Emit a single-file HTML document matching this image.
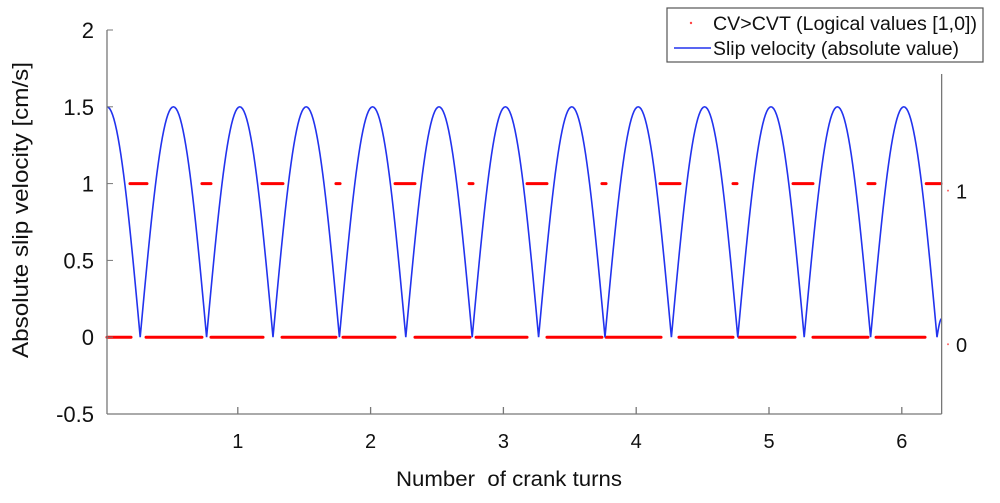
<!DOCTYPE html>
<html><head><meta charset="utf-8">
<style>
html,body{margin:0;padding:0;background:#fff;}
svg{display:block;font-family:"Liberation Sans",Arial,sans-serif;}
</style></head>
<body>
<svg id="chart" width="1000" height="503" viewBox="0 0 1000 503">
  <g id="plot"></g>
  <g id="axes"></g>
  <text x="0" y="0" transform="translate(28,210) rotate(-90)" text-anchor="middle" font-size="22" textLength="296" lengthAdjust="spacingAndGlyphs" fill="#111">Absolute slip velocity [cm/s]</text>
  <text x="509" y="486" text-anchor="middle" font-size="21" textLength="226" lengthAdjust="spacingAndGlyphs" fill="#111" xml:space="preserve">Number  of crank turns</text>
  <g>
    <rect x="667" y="8" width="316" height="54" fill="#fff" stroke="#555" stroke-width="1.2"/>
    <circle cx="691" cy="23" r="1.2" fill="#f44"/>
    <text x="713" y="30" font-size="19" textLength="264" lengthAdjust="spacingAndGlyphs" fill="#111">CV&gt;CVT (Logical values [1,0])</text>
    <line x1="674" y1="48" x2="711" y2="48" stroke="#2233ee" stroke-width="1.5"/>
    <text x="713" y="55" font-size="19" textLength="246" lengthAdjust="spacingAndGlyphs" fill="#111">Slip velocity (absolute value)</text>
  </g>
</svg>
<script>
// ---- data ----
const xTicks = [1, 2, 3, 4, 5, 6];
const yTicks = [-0.5, 0, 0.5, 1, 1.5, 2];
const yTickLabels = ["-0.5", "0", "0.5", "1", "1.5", "2"];
const rightTicks = [0, 1];
const rightTickLabels = ["0", "1"];
// slip velocity keypoints: peaks and zeros (turns, cm/s)
const slipT = [0.015,0.265,0.515,0.765,1.015,1.265,1.515,1.765,2.015,2.265,2.515,2.765,3.015,3.265,3.515,3.765,4.015,4.265,4.515,4.765,5.015,5.265,5.515,5.765,6.015,6.265,6.3];
const slipV = [1.5,0,1.5,0,1.5,0,1.5,0,1.5,0,1.5,0,1.5,0,1.5,0,1.5,0,1.5,0,1.5,0,1.5,0,1.5,0,0.12];
// logical value intervals [start,end] in turns
const oneStarts = [0.188,0.730,1.182,1.739,2.184,2.741,3.178,3.742,4.179,4.729,5.181,5.745,6.184];
const oneEnds   = [0.316,0.798,1.340,1.770,2.334,2.771,3.328,3.773,4.330,4.759,5.331,5.798,6.295];
const zeroStarts = [0.015,0.309,0.798,1.333,1.792,2.334,2.794,3.328,3.773,4.322,4.774,5.331,5.806];
const zeroEnds   = [0.196,0.730,1.190,1.739,2.184,2.748,3.178,3.742,4.187,4.729,5.196,5.745,6.175];

// ---- scales ----
const X0 = 105, XS = 132.8;
const xMin = 0.015, xMax = 6.3;
const yMin = -0.5, yMax = 2, YTOP = 30, YBOT = 414;
const x = t => X0 + t * XS;
const y = v => YBOT - (v - yMin) / (yMax - yMin) * (YBOT - YTOP);
const NS = "http://www.w3.org/2000/svg";
const plot = document.getElementById('plot');
const axes = document.getElementById('axes');
function mk(tag, attrs, parent){const e=document.createElementNS(NS,tag);for(const k in attrs)e.setAttribute(k,attrs[k]);parent.appendChild(e);return e;}

// logical values
for (let i = 0; i < oneStarts.length; i++) {
  const l = mk('line', {x1:x(oneStarts[i]), x2:x(oneEnds[i]), y1:y(1), y2:y(1), stroke:'#f00', 'stroke-width':3, 'stroke-linecap':'round'}, plot);
  
  
}
for (let i = 0; i < zeroStarts.length; i++) {
  const l = mk('line', {x1:x(zeroStarts[i]), x2:x(zeroEnds[i]), y1:y(0), y2:y(0), stroke:'#f00', 'stroke-width':3, 'stroke-linecap':'round'}, plot);
  
  
}

// slip velocity curve
let d = 'M' + x(slipT[0]) + ',' + y(slipV[0]);
for (let i = 0; i < slipT.length - 1; i++) {
  const a = slipT[i], b = slipT[i+1], va = slipV[i], vb = slipV[i+1];
  const n = 24;
  for (let k = 1; k <= n; k++) {
    const s = k / n, t = a + (b - a) * s;
    let v;
    if (va > vb) v = vb + (va - vb) * Math.cos(Math.PI / 2 * s);
    else v = va + (vb - va) * Math.sin(Math.PI / 2 * s);
    d += 'L' + x(t).toFixed(2) + ',' + y(v).toFixed(2);
  }
}
const curve = mk('path', {d:d, fill:'none', stroke:'#2233ee', 'stroke-width':1.6}, plot);



// axes
const ax = '#777';
const la = mk('line', {x1:x(xMin), x2:x(xMin), y1:YTOP, y2:YBOT, stroke:ax, 'stroke-width':1.3}, axes);


const ba = mk('line', {x1:x(xMin), x2:x(xMax), y1:YBOT, y2:YBOT, stroke:ax, 'stroke-width':1.3}, axes);


const ra = mk('line', {x1:x(xMax), x2:x(xMax), y1:74, y2:YBOT, stroke:ax, 'stroke-width':1.3}, axes);



yTicks.forEach((v, i) => {
  const tk = mk('line', {x1:x(xMin), x2:x(xMin)+6, y1:y(v), y2:y(v), stroke:ax, 'stroke-width':1}, axes);
  
  
  const tx = mk('text', {x:94, y:y(v)+8, 'text-anchor':'end', 'font-size':22, fill:'#111'}, axes);
  tx.textContent = yTickLabels[i];
  
  
});
xTicks.forEach(v => {
  const tk = mk('line', {x1:x(v), x2:x(v), y1:YBOT, y2:YBOT-7, stroke:ax, 'stroke-width':1.3}, axes);
  
  
  const tx = mk('text', {x:x(v), y:448, 'text-anchor':'middle', 'font-size':20, fill:'#111'}, axes);
  tx.textContent = String(v);
  
  
});
rightTicks.forEach((v, i) => {
  const dot = mk('circle', {cx:948, cy:y(v)+7, r:1, fill:'#f66'}, axes);
  
  
  const tx = mk('text', {x:956, y:y(v)+15, 'font-size':20, fill:'#111'}, axes);
  tx.textContent = rightTickLabels[i];
  
  
});
</script>
</body></html>
